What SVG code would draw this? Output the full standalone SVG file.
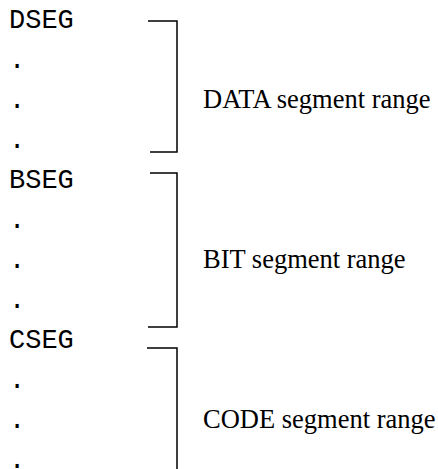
<svg xmlns="http://www.w3.org/2000/svg" width="438" height="469" viewBox="0 0 438 469">
<style>
.m{font-family:"Liberation Mono","Courier New",monospace;font-size:27px;fill:#000}
.l{font-family:"Liberation Serif","Times New Roman",serif;font-size:26.5px;fill:#000}
.b{fill:none;stroke:#000;stroke-width:1.5}
</style>
<rect width="438" height="469" fill="#fff"/>
<g id="code">
<text class="m" x="9" y="28">DSEG</text>
<text class="m" x="9" y="68">.</text>
<text class="m" x="9" y="108">.</text>
<text class="m" x="9" y="148">.</text>
<text class="m" x="9" y="188">BSEG</text>
<text class="m" x="9" y="228">.</text>
<text class="m" x="9" y="268">.</text>
<text class="m" x="9" y="308">.</text>
<text class="m" x="9" y="348">CSEG</text>
<text class="m" x="9" y="388">.</text>
<text class="m" x="9" y="428">.</text>
<text class="m" x="9" y="468">.</text>
</g>
<g id="connectors">
<path class="b" d="M148,21H177V152H150"/>
<path class="b" d="M150,173H177V327H148"/>
<path class="b" d="M147,348H177V469"/>
</g>
<g id="data"><text class="l" x="203" y="108">DATA segment range</text></g>
<g id="bit"><text class="l" x="203" y="268">BIT segment range</text></g>
<g id="codeseg"><text class="l" x="203" y="428">CODE segment range</text></g>
</svg>
